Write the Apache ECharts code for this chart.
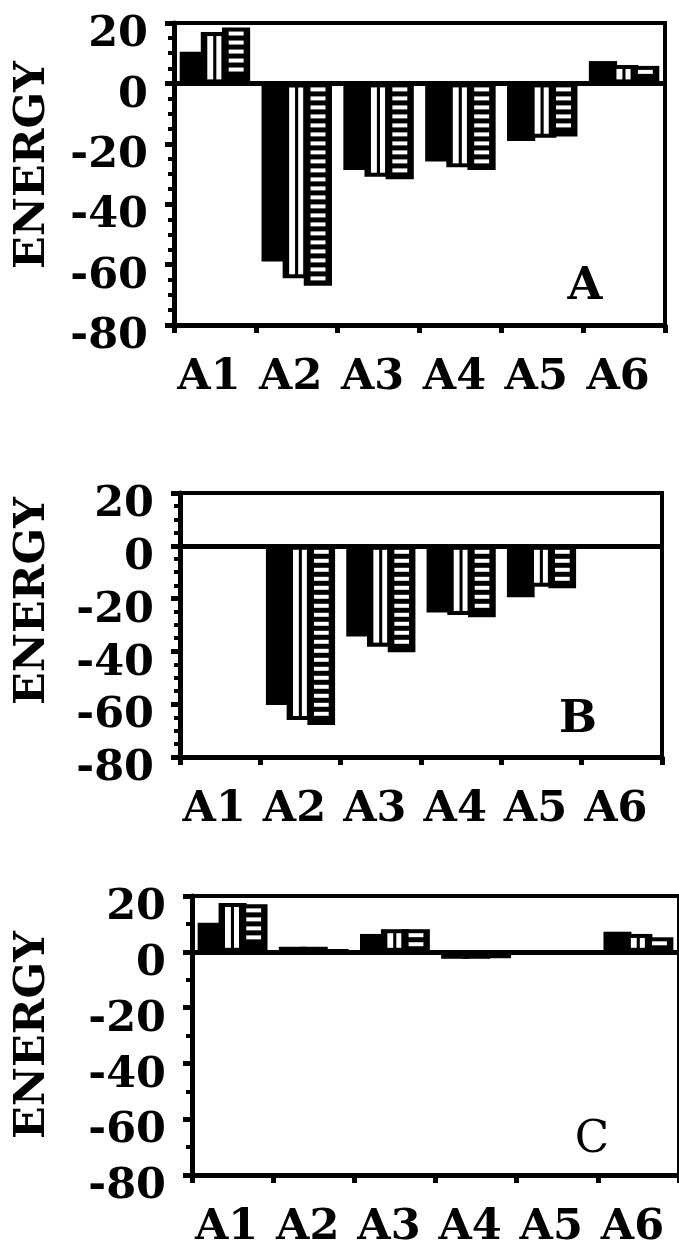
<!DOCTYPE html>
<html>
<head>
<meta charset="utf-8">
<script src="https://cdn.jsdelivr.net/npm/echarts@6/dist/echarts.min.js"></script>
<style>
  html, body { margin: 0; padding: 0; background: #fff; }
  #chart { width: 679px; height: 1249px; }
</style>
</head>
<body>
<div id="chart"></div>
<script>
// Interaction energies per site, three computations per panel
const categories = ['A1', 'A2', 'A3', 'A4', 'A5', 'A6'];
const yTickMin = -80;
const yTickMax = 20;
const yTickStep = 20;

const panelA_solid      = [10.5, -59.0, -28.7, -25.9, -19.1, 7.4];
const panelA_vertical   = [17.0, -64.5, -30.9, -27.8, -18.0, 6.1];
const panelA_horizontal = [18.5, -67.0, -31.7, -28.7, -17.6, 5.8];

const panelB_solid      = [0, -60.3, -34.4, -25.3, -19.5, 0];
const panelB_vertical   = [0, -66.0, -38.2, -26.2, -15.5, 0];
const panelB_horizontal = [0, -67.9, -40.3, -27.1, -16.1, 0];

const panelC_solid      = [10.4, 1.8, 6.4, -2.5, 0, 7.2];
const panelC_vertical   = [17.5, 1.8, 8.1, -2.5, 0, 6.4];
const panelC_horizontal = [17.0, 1.0, 8.1, -2.3, 0, 5.2];

const panelLetters = ['A', 'B', 'C'];

const panels = [
  [panelA_solid, panelA_vertical, panelA_horizontal],
  [panelB_solid, panelB_vertical, panelB_horizontal],
  [panelC_solid, panelC_vertical, panelC_horizontal]
];

const FONT = '"DejaVu Serif", "Liberation Serif", serif';

// Bar drawn as a black block; pattern 1 adds two white vertical slits,
// pattern 2 adds a column of short white horizontal dashes.
function makeRenderer(k) {
  return function (params, api) {
    const idx = api.value(0);
    const v = api.value(1);
    if (!v) return null;
    const band = api.size([1, 0])[0];
    const w = band * 0.345;
    const step = band * 0.258;
    const groupW = w + 2 * step;
    const base = api.coord([idx, 0]);
    const end = api.coord([idx, v]);
    const x0 = base[0] - groupW / 2 + k * step;
    const yTop = Math.min(base[1], end[1]);
    const h = Math.abs(end[1] - base[1]);
    const children = [{
      type: 'rect',
      shape: { x: x0, y: yTop, width: w, height: h },
      style: { fill: '#000' }
    }];
    const inset = 4;
    if (k === 1 && h > 2 * inset + 3) {
      children.push({
        type: 'rect',
        shape: { x: x0 + w * 0.23, y: yTop + inset, width: w * 0.21, height: h - 2 * inset },
        style: { fill: '#fff' }
      });
      children.push({
        type: 'rect',
        shape: { x: x0 + w * 0.55, y: yTop + inset, width: w * 0.18, height: h - 2 * inset },
        style: { fill: '#fff' }
      });
    }
    if (k === 2) {
      const period = 9, dash = 4;
      for (let y = yTop + inset; y + dash <= yTop + h - inset; y += period) {
        children.push({
          type: 'rect',
          shape: { x: x0 + w * 0.24, y: y, width: w * 0.53, height: dash },
          style: { fill: '#fff' }
        });
      }
    }
    return { type: 'group', children: children };
  };
}

const grids = [
  { left: 174, top: 23, width: 491, height: 302 },
  { left: 180, top: 493, width: 482, height: 264 },
  { left: 192, top: 896, width: 494, height: 279 }
];
const minorSplits = [4, 4, 2];

const labelFont = { color: '#000', fontFamily: FONT, fontWeight: 'bold', fontSize: 43 };

const xAxes = grids.map((g, p) => ({
  type: 'category',
  gridIndex: p,
  data: categories,
  position: 'bottom',
  axisLine: { show: true, onZero: false, lineStyle: { color: '#000', width: 5 } },
  axisTick: { show: true, interval: 0, length: 8, inside: false, lineStyle: { color: '#000', width: 5 } },
  axisLabel: {
    show: true, interval: 0, hideOverlap: false, margin: 31,
    formatter: v => '{t|' + v + '}',
    rich: { t: Object.assign({ padding: [0, 12, 0, 0] }, labelFont) }
  },
  splitLine: { show: false }
}));

const yAxes = grids.map((g, p) => ({
  type: 'value',
  gridIndex: p,
  min: yTickMin,
  max: yTickMax,
  interval: yTickStep,
  axisLine: { show: true, lineStyle: { color: '#000', width: 5 } },
  axisTick: { show: true, length: 9, lineStyle: { color: '#000', width: 5 } },
  minorTick: { show: true, splitNumber: minorSplits[p], length: 6, lineStyle: { color: '#000', width: 4 } },
  axisLabel: {
    show: true, margin: 26,
    formatter: v => '{t|' + v + '}',
    rich: { t: Object.assign({ padding: [24, 0, 0, 0] }, labelFont) }
  },
  splitLine: { show: false }
}));

const series = [];
panels.forEach((sets, p) => {
  sets.forEach((vals, k) => {
    const s = {
      type: 'custom',
      xAxisIndex: p,
      yAxisIndex: p,
      encode: { x: 0, y: 1 },
      data: vals.map((v, i) => [i, v]),
      renderItem: makeRenderer(k),
      silent: true
    };
    if (k === 2) {
      s.markLine = {
        silent: true,
        symbol: ['none', 'none'],
        label: { show: false },
        lineStyle: { color: '#000', width: 5, type: 'solid' },
        data: [{ yAxis: 0 }]
      };
    }
    series.push(s);
  });
});

const graphics = [];
const energyCenters = [165, 601, 1035];
energyCenters.forEach(cy => {
  graphics.push({
    type: 'text',
    x: 33, y: cy,
    rotation: Math.PI / 2,
    style: {
      text: 'ENERGY', fill: '#000', font: 'bold 43px ' + FONT,
      align: 'center', verticalAlign: 'middle'
    }
  });
});
const letterPos = [[585, 287, 'bold'], [578, 720, 'bold'], [592, 1140, 'normal']];
letterPos.forEach((lp, i) => {
  graphics.push({
    type: 'text',
    x: lp[0], y: lp[1],
    style: {
      text: panelLetters[i], fill: '#000', font: lp[2] + ' 45px ' + FONT,
      align: 'center', verticalAlign: 'middle'
    }
  });
});

const chart = echarts.init(document.getElementById('chart'));
chart.setOption({
  animation: false,
  backgroundColor: '#fff',
  grid: grids.map(g => Object.assign({ show: true, borderColor: '#000', borderWidth: 4, backgroundColor: 'transparent' }, g)),
  xAxis: xAxes,
  yAxis: yAxes,
  series: series,
  graphic: graphics
});
</script>
</body>
</html>
